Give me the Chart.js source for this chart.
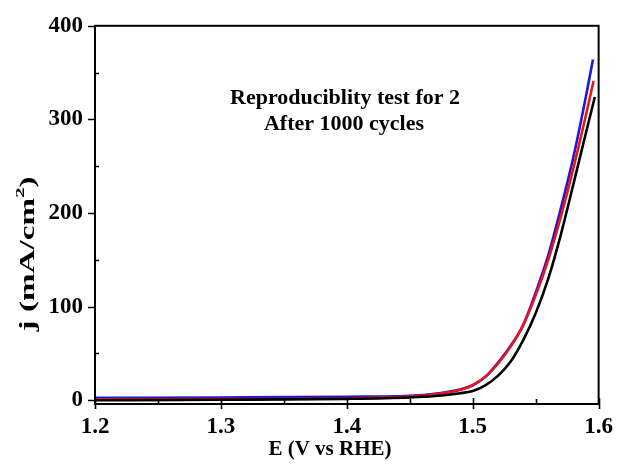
<!DOCTYPE html>
<html>
<head>
<meta charset="utf-8">
<script src="https://cdn.jsdelivr.net/npm/chart.js@4/dist/chart.umd.min.js"></script>
<style>
  html, body { margin: 0; padding: 0; background: #fff; }
  #wrap { width: 622px; height: 464px; }
</style>
</head>
<body>
<div id="wrap"><canvas id="c" width="622" height="464"></canvas></div>
<script>
// Polarisation curves: potential E (V vs RHE) and current density j (mA/cm²)
const blackE = [1.20, 1.30, 1.40, 1.45, 1.47, 1.49, 1.50, 1.51, 1.52, 1.53, 1.54, 1.55, 1.56, 1.57, 1.58, 1.59, 1.597];
const blackJ = [0.0, 0.5, 1.5, 3.0, 4.5, 7.5, 10, 16, 26, 41, 64, 93, 130, 177, 231, 286, 324];

const redE = [1.20, 1.30, 1.40, 1.45, 1.47, 1.49, 1.50, 1.51, 1.52, 1.53, 1.54, 1.55, 1.56, 1.57, 1.58, 1.59, 1.596];
const redJ = [1.0, 1.3, 2.2, 4.0, 6.5, 11, 16, 25, 39, 57, 80, 112, 150, 196, 248, 305, 341];

const blueE = [1.20, 1.30, 1.40, 1.45, 1.47, 1.49, 1.50, 1.51, 1.52, 1.53, 1.54, 1.55, 1.56, 1.57, 1.58, 1.59, 1.5955];
const blueJ = [2.5, 3.0, 3.8, 4.8, 7.0, 11.5, 16, 25, 40, 58, 80, 115, 155, 205, 260, 325, 364];

const xTicks = [1.2, 1.3, 1.4, 1.5, 1.6];
const yTicks = [0, 100, 200, 300, 400];
const xMinorTicks = [1.25, 1.35, 1.45, 1.55];
const yMinorTicks = [50, 150, 250, 350];

const xTitle = 'E (V vs RHE)';
const yTitle = ['j (mA/cm', '2', ')'];
const noteLines = ['Reproduciblity test for 2', 'After 1000 cycles'];

const pts = (xs, ys) => xs.map((x, i) => ({ x: x, y: ys[i] }));

const SERIF = "'Liberation Serif', 'Times New Roman', serif";

// Closed frame, tick marks, axis titles and the note text
const decorations = {
  id: 'decorations',
  afterDraw(chart) {
    const { ctx, chartArea: a, scales: { x, y } } = chart;
    ctx.save();
    ctx.strokeStyle = '#000';
    ctx.lineWidth = 2;
    ctx.strokeRect(a.left, a.top, a.right - a.left, a.bottom - a.top);

    ctx.lineWidth = 1.6;
    ctx.beginPath();
    yTicks.forEach(v => {
      const p = Math.round(y.getPixelForValue(v)) + 0.5;
      ctx.moveTo(a.left - 7, p); ctx.lineTo(a.left, p);
    });
    yMinorTicks.forEach(v => {
      const p = Math.round(y.getPixelForValue(v)) + 0.5;
      ctx.moveTo(a.left, p); ctx.lineTo(a.left + 4, p);
    });
    xTicks.forEach(v => {
      const p = Math.round(x.getPixelForValue(v)) + 0.5;
      ctx.moveTo(p, a.bottom + 5); ctx.lineTo(p, a.bottom - 6);
    });
    xMinorTicks.forEach(v => {
      const p = Math.round(x.getPixelForValue(v)) + 0.5;
      ctx.moveTo(p, a.bottom); ctx.lineTo(p, a.bottom - 5);
    });
    ctx.stroke();

    ctx.fillStyle = '#000';
    ctx.textAlign = 'center';
    ctx.textBaseline = 'middle';

    // x-axis title
    ctx.font = 'bold 21px ' + SERIF;
    ctx.fillText(xTitle, 330, 450);

    // y-axis title, rotated, with a raised superscript
    ctx.save();
    ctx.translate(29, 254);
    ctx.rotate(-Math.PI / 2);
    ctx.scale(1.58, 1);
    ctx.font = 'bold 21px ' + SERIF;
    ctx.textAlign = 'left';
    const w0 = ctx.measureText(yTitle[0]).width;
    ctx.font = 'bold 13px ' + SERIF;
    const w1 = ctx.measureText(yTitle[1]).width;
    ctx.font = 'bold 21px ' + SERIF;
    const w2 = ctx.measureText(yTitle[2]).width;
    const start = -(w0 + w1 + w2) / 2;
    ctx.fillText(yTitle[0], start, 0);
    ctx.font = 'bold 13px ' + SERIF;
    ctx.fillText(yTitle[1], start + w0, -8);
    ctx.font = 'bold 21px ' + SERIF;
    ctx.fillText(yTitle[2], start + w0 + w1, 0);
    ctx.restore();

    // note
    ctx.font = 'bold 22px ' + SERIF;
    ctx.fillText(noteLines[0], 345, 98);
    ctx.fillText(noteLines[1], 344, 124);
    ctx.restore();
  }
};

const line = (data, color) => ({
  data: data,
  borderColor: color,
  borderWidth: 2.6,
  pointRadius: 0,
  fill: false,
  cubicInterpolationMode: 'monotone'
});

new Chart(document.getElementById('c'), {
  type: 'line',
  data: {
    datasets: [
      line(pts(blackE, blackJ), '#000000'),
      line(pts(redE, redJ), '#e8141e'),
      line(pts(blueE, blueJ), '#1a1ad6')
    ]
  },
  options: {
    responsive: false,
    animation: false,
    devicePixelRatio: 1,
    layout: { padding: { left: 0, right: 19, top: 24, bottom: 0 } },
    plugins: { legend: { display: false }, tooltip: { enabled: false } },
    scales: {
      x: {
        type: 'linear',
        min: 1.2, max: 1.6,
        grid: { display: false, drawTicks: false },
        border: { display: false },
        afterBuildTicks(s) { s.ticks = xTicks.map(v => ({ value: v })); },
        afterFit(s) { s.height = 60; },
        ticks: {
          padding: 9,
          color: '#000',
          font: { family: SERIF, weight: 'bold', size: 23 },
          callback: v => Number(v).toFixed(1)
        }
      },
      y: {
        min: -4, max: 400,
        grid: { display: false, drawTicks: false },
        border: { display: false },
        afterBuildTicks(s) { s.ticks = yTicks.map(v => ({ value: v })); },
        afterFit(s) { s.width = 95; },
        ticks: {
          padding: 12,
          color: '#000',
          font: { family: SERIF, weight: 'bold', size: 23 },
          callback: v => String(v)
        }
      }
    }
  },
  plugins: [decorations]
});
</script>
</body>
</html>
